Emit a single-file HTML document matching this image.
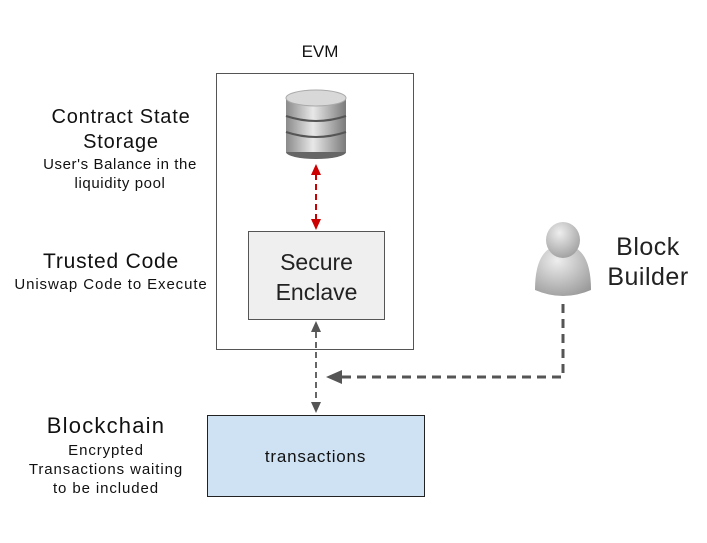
<!DOCTYPE html>
<html><head><style>
body{margin:0;width:707px;height:543px;background:#fff;position:relative;font-family:"Liberation Sans",sans-serif;overflow:hidden}
.t{position:absolute;text-align:center;color:#111;white-space:nowrap}
</style></head><body>
<svg width="707" height="543" style="position:absolute;left:0;top:0">
<defs>
<linearGradient id="g" x1="0" x2="1"><stop offset="0" stop-color="#8a8a8a"/><stop offset=".45" stop-color="#e8e8e8"/><stop offset="1" stop-color="#7a7a7a"/></linearGradient>
<radialGradient id="p" cx=".4" cy=".3" r=".8"><stop offset="0" stop-color="#eee"/><stop offset="1" stop-color="#999"/></radialGradient>
</defs>
<rect x="216.5" y="73.5" width="197" height="276" fill="#fff" stroke="#555"/>
<rect x="248.5" y="231.5" width="136" height="88" fill="#efefef" stroke="#555"/>
<rect x="207.5" y="415.5" width="217" height="81" fill="#cfe2f3" stroke="#222"/>
<rect x="286" y="98" width="60" height="54" fill="url(#g)"/>
<ellipse cx="316" cy="152" rx="30" ry="7" fill="#666"/>
<rect x="286" y="140" width="60" height="12" fill="url(#g)"/>
<path d="M286 116 q30 10 60 0 M286 132 q30 10 60 0" stroke="#555" stroke-width="2" fill="none"/>
<ellipse cx="316" cy="98" rx="30" ry="8" fill="#d8d8d8" stroke="#aaa"/>
<line x1="316" y1="174" x2="316" y2="220" stroke="#c00" stroke-width="2" stroke-dasharray="6,4"/>
<polygon points="316,164 311,175 321,175" fill="#c00"/>
<polygon points="316,230 311,219 321,219" fill="#c00"/>
<line x1="316" y1="332" x2="316" y2="402" stroke="#666" stroke-width="2" stroke-dasharray="6,4"/>
<polygon points="316,321 311,332 321,332" fill="#555"/>
<polygon points="316,413 311,402 321,402" fill="#555"/>
<polyline points="563,304 563,377 342,377" fill="none" stroke="#555" stroke-width="3" stroke-dasharray="9,6"/>
<polygon points="326,377 342,370 342,384" fill="#555"/>
<path d="M535 290 q0 -45 28 -45 q28 0 28 45 q-28 12 -56 0z" fill="url(#p)"/>
<ellipse cx="563" cy="240" rx="17" ry="18" fill="url(#p)"/>
</svg>
<div class="t" style="left:270px;top:42px;width:100px;font-size:17px">EVM</div>
<div class="t" style="left:21px;top:105px;width:200px;font-size:20px;line-height:25px;letter-spacing:.8px">Contract State<br>Storage</div>
<div class="t" style="left:20px;top:155px;width:200px;font-size:15px;line-height:19px;letter-spacing:.6px">User's Balance in the<br>liquidity pool</div>
<div class="t" style="left:11px;top:250px;width:200px;font-size:21px;letter-spacing:.8px">Trusted Code</div>
<div class="t" style="left:11px;top:276px;width:200px;font-size:15px;letter-spacing:.9px">Uniswap Code to Execute</div>
<div class="t" style="left:248px;top:247px;width:137px;font-size:23px;line-height:30px;color:#222">Secure<br>Enclave</div>
<div class="t" style="left:588px;top:232px;width:120px;font-size:25px;line-height:30px;color:#222;letter-spacing:.5px">Block<br>Builder</div>
<div class="t" style="left:6px;top:413px;width:200px;font-size:22px;letter-spacing:1.2px">Blockchain</div>
<div class="t" style="left:6px;top:441px;width:200px;font-size:15px;line-height:19px;letter-spacing:.9px">Encrypted<br>Transactions waiting<br>to be included</div>
<div class="t" style="left:207px;top:447px;width:217px;font-size:17px;letter-spacing:.8px">transactions</div>
</body></html>
